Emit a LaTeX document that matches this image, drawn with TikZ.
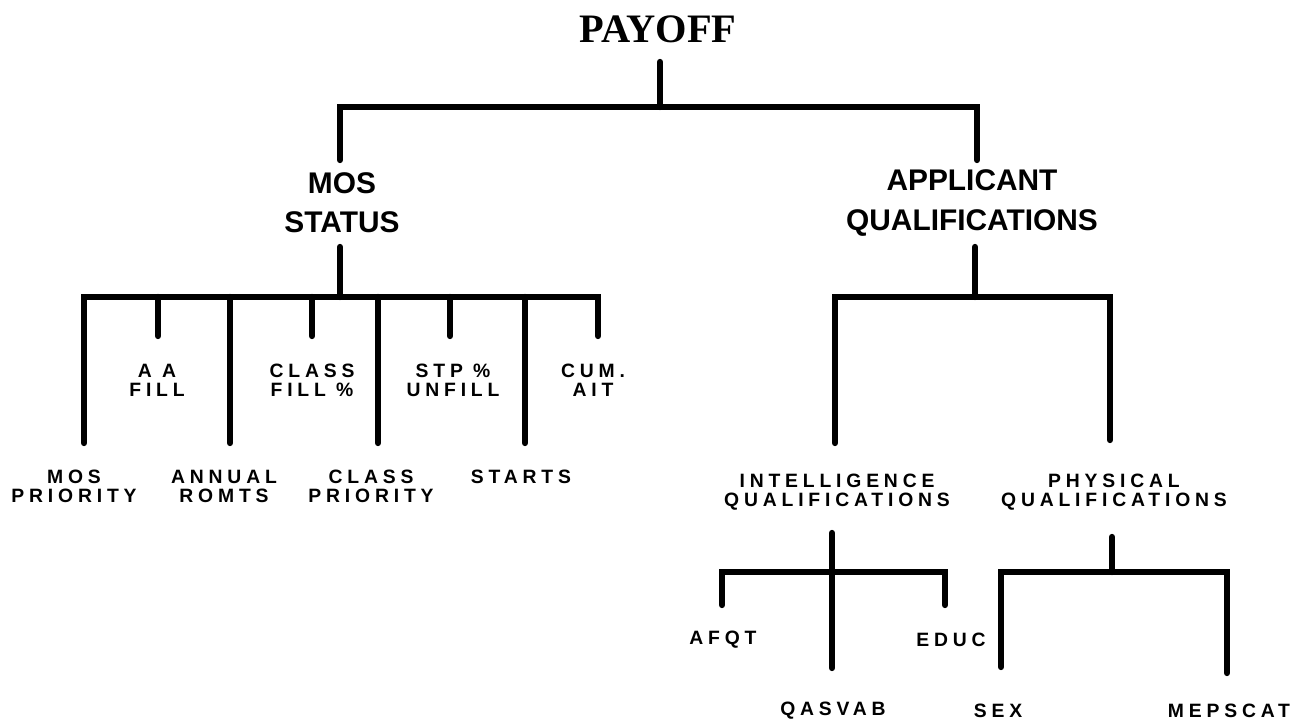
\documentclass[tikz,border=0pt]{standalone}
\usepackage{fontspec}
\setmainfont{Liberation Serif}
\newfontfamily\groupfont{Liberation Sans}
\newfontfamily\leaffont{Liberation Sans}[LetterSpace=25]
\usetikzlibrary{positioning}

\tikzset{
  tree/.style={line width=3.6pt,line cap=round},
  rootlbl/.style={font=\fontsize{23}{26}\selectfont\bfseries,inner sep=0pt},
  grouplbl/.style={font=\groupfont\fontsize{17}{22.4}\selectfont\bfseries,
    align=center,inner sep=0pt},
  leaflbl/.style={font=\leaffont\fontsize{11}{10.8}\selectfont\bfseries,
    align=center,inner sep=0pt}
}

\begin{document}
\begin{tikzpicture}[x=0.02cm,y=-0.02cm]
  \useasboundingbox (0,0) rectangle (1303,727);

  % top level
  \node[rootlbl] (payoff) at (658,29) {PAYOFF};
  \node[grouplbl] (mos) at (342,203) {MOS\\STATUS};
  \node[grouplbl] (appl) at (972,203) {APPLICANT\\QUALIFICATIONS};

  \coordinate (rootstem) at (660,62);
  \coordinate (rootbar) at (660,107);
  \coordinate (mosin) at (340,160);
  \coordinate (applin) at (977,160);
  \draw[tree] (rootstem) -- (rootbar);
  \draw[tree] (mosin) |- (rootbar) -| (applin);

  % MOS status branch
  \coordinate (mosstem) at (340,247);
  \coordinate (mosbar) at (340,297);
  \draw[tree] (mosstem) -- (mosbar);
  \foreach \name/\x/\y in {mA/84/443,mB/158/336,mC/230/443,mD/312/336,
                           mE/378/443,mF/450/336,mG/525/443,mH/598/336}
    \coordinate (\name) at (\x,\y);
  \draw[tree] (mA) |- (mosbar) -| (mH);
  \foreach \name in {mB,mC,mD,mE,mF,mG}
    \draw[tree] (\name) -- (\name |- mosbar);

  \node[leaflbl] (aafill) at (157,380) {A A\\FILL};
  \node[leaflbl] (clfill) at (312,380) {CLASS\\FILL \%};
  \node[leaflbl] (stp) at (453,380) {STP \%\\UNFILL};
  \node[leaflbl] (cum) at (593,380) {CUM.\\AIT};
  \node[leaflbl] (mospri) at (74,486) {MOS\\PRIORITY};
  \node[leaflbl] (annual) at (224,486) {ANNUAL\\ROMTS};
  \node[leaflbl] (clpri) at (371,486) {CLASS\\PRIORITY};
  \node[leaflbl] (starts) at (521,477) {STARTS};

  % applicant branch
  \coordinate (applstem) at (975,247);
  \coordinate (applbar) at (975,297);
  \coordinate (intin) at (835,443);
  \coordinate (physin) at (1110,440);
  \draw[tree] (applstem) -- (applbar);
  \draw[tree] (intin) |- (applbar) -| (physin);

  \node[leaflbl] (intel) at (837,492) {INTELLIGENCE\\QUALIFICATIONS};
  \node[leaflbl] (phys) at (1114,492) {PHYSICAL\\QUALIFICATIONS};

  % intelligence
  \coordinate (intstem) at (832,533);
  \coordinate (intbar) at (832,572);
  \coordinate (intend) at (832,668);
  \coordinate (afqtin) at (722,605);
  \coordinate (educin) at (945,605);
  \draw[tree] (intstem) -- (intend);
  \draw[tree] (afqtin) |- (intbar) -| (educin);

  \node[leaflbl] (afqt) at (723,640) {AFQT};
  \node[leaflbl] (educ) at (951,640) {EDUC};
  \node[leaflbl] (qasvab) at (833,711) {QASVAB};

  % physical
  \coordinate (physstem) at (1112,537);
  \coordinate (physbar) at (1112,572);
  \coordinate (sexin) at (1001,667);
  \coordinate (mepsin) at (1227,673);
  \draw[tree] (physstem) -- (physbar);
  \draw[tree] (sexin) |- (physbar) -| (mepsin);

  \node[leaflbl] (sex) at (998,711) {SEX};
  \node[leaflbl] (meps) at (1229,711) {MEPSCAT};
\end{tikzpicture}
\end{document}
